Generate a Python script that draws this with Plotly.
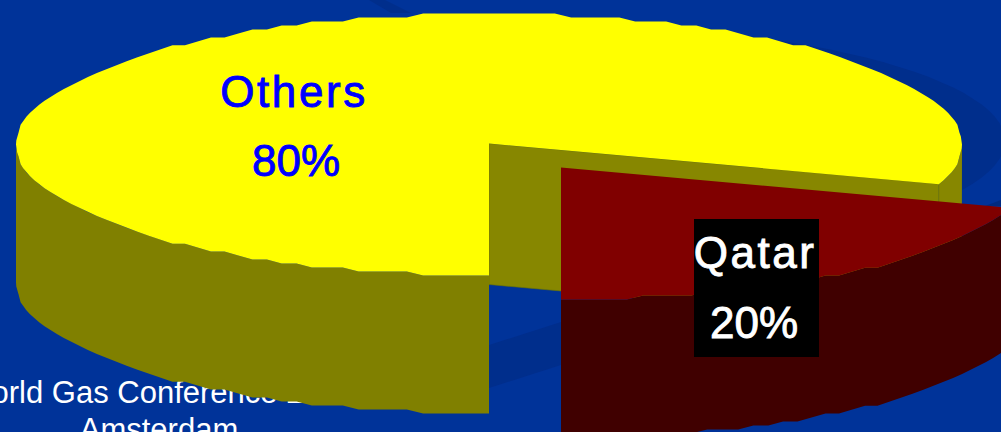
import numpy as np
import plotly.graph_objects as go

# ---- data ----
slice_names = ["Others", "Qatar"]
slice_shares = [80, 20]
footer_lines = ["World Gas Conference 2006", "Amsterdam"]

# ---- geometry and style ----
W, H = 1001, 432
RX, RY = 473, 130.9
DEPTH = 138
RADIAL_DEPTH = 141
CENTER_OTHERS = (489, 143.5)
CENTER_QATAR = (561, 167.5)
RIM_SHIFT = 1
STEP_Y = 3.967
ANGLE_STEP = 2.0
BG = "#003399"
SHADOW = "#002e8c"
YELLOW, OLIVE, OLIVE_LIGHT = "#FFFF00", "#808000", "#878700"
RED, RED_DARK = "#800000", "#400000"


def rim(center, a0, a1):
    """Slightly stepped elliptical outline; samples sit on one shared angle grid so edges coincide."""
    grid = np.arange(np.ceil(a0 / ANGLE_STEP), np.floor(a1 / ANGLE_STEP) + 1) * ANGLE_STEP
    inner_x = RX * np.cos(np.radians(grid))
    inner_y = np.round(-RY * np.sin(np.radians(grid)) / STEP_Y) * STEP_Y + RIM_SHIFT
    end_x = RX * np.cos(np.radians([a0, a1]))
    end_y = -RY * np.sin(np.radians([a0, a1]))
    xs = np.r_[end_x[0], inner_x, end_x[1]]
    ys = np.r_[end_y[0], inner_y, end_y[1]]
    return center[0] + xs, center[1] + ys


def wall(center, a0, a1, depth=DEPTH):
    x, y = rim(center, a0, a1)
    return np.r_[x, x[::-1], x[0]], np.r_[y, y[::-1] + depth, y[0]]


def wedge(center, a0, a1):
    x, y = rim(center, a0, a1)
    return np.r_[center[0], x, center[0]], np.r_[center[1], y, center[1]]


def poly(x, y, fill, line=None):
    return go.Scatter(
        x=x, y=y, mode="lines", fill="toself", fillcolor=fill, hoverinfo="skip",
        line=dict(width=0.6 if line else 0, color=line or fill), showlegend=False,
    )


# the Qatar share opens counter-clockwise from straight down
start = -90
qatar_end = start + slice_shares[1] / sum(slice_shares) * 360
others_end = start + 360

fig = go.Figure()

# drop shadow on the background
sa = np.radians(np.linspace(0, 360, 121))
fig.add_trace(poly(530 + 475 * np.cos(sa), 141 + 118 * np.sin(sa), SHADOW))
fig.add_trace(poly([489, 561, 561, 489, 489], [345, 322, 365, 388, 345], SHADOW))
fig.add_trace(poly([369, 385, 411, 391, 369], [0, 0, 13, 13, 0], SHADOW))
fig.add_trace(poly([985, 1001, 1001, 985], [206, 200, 206, 206], "#002a80"))

# footer sits behind the pie
fig.add_trace(go.Scatter(
    x=[159, 159], y=[395, 432], text=footer_lines, mode="text", hoverinfo="skip",
    textposition="middle center", showlegend=False,
    textfont=dict(family="Liberation Sans", size=31, color="white"),
))

# Others slice
x, y = wall(CENTER_OTHERS, qatar_end, 0)
fig.add_trace(poly(x, y, OLIVE_LIGHT))
cx, cy = CENTER_OTHERS
ex = cx + RX * np.cos(np.radians(qatar_end))
ey = cy - RY * np.sin(np.radians(qatar_end))
fig.add_trace(poly([cx, ex, ex, cx, cx],
                   [cy, ey, ey + RADIAL_DEPTH, cy + RADIAL_DEPTH, cy], OLIVE_LIGHT, "#6c7400"))
x, y = wall(CENTER_OTHERS, 180, 270)
fig.add_trace(poly(x, y, OLIVE))
x, y = wedge(CENTER_OTHERS, qatar_end, others_end)
fig.add_trace(poly(x, y, YELLOW))

# Qatar slice
x, y = wall(CENTER_QATAR, start, qatar_end)
fig.add_trace(poly(x, y, RED_DARK))
x, y = wedge(CENTER_QATAR, start, qatar_end)
fig.add_trace(poly(x, y, RED))

fig.add_shape(type="rect", x0=694, x1=819, y0=219, y1=357, xref="x", yref="y",
              fillcolor="black", line_width=0, layer="above")

labels = [
    (slice_names[0], 294, 91, "#0000FF"),
    (f"{slice_shares[0]}%", 295.5, 160, "#0000FF"),
    (slice_names[1], 755, 252, "white"),
    (f"{slice_shares[1]}%", 754, 322, "white"),
]
for text, ax, ay, col in labels:
    fig.add_annotation(x=ax, y=ay, text=text, showarrow=False, xanchor="center", yanchor="middle",
                       font=dict(family="Liberation Sans", size=44, color=col))

fig.update_layout(
    width=W, height=H, margin=dict(l=0, r=0, t=0, b=0),
    paper_bgcolor=BG, plot_bgcolor=BG, showlegend=False,
    xaxis=dict(range=[0, W], visible=False, fixedrange=True),
    yaxis=dict(range=[H, 0], visible=False, fixedrange=True),
)

post = """
document.documentElement.style.margin='0';document.body.style.margin='0';
document.querySelectorAll('.annotation-text').forEach(function(t){
  var s=t.textContent.indexOf('%')>=0?'0px':(t.textContent==='Qatar'?'2.5px':'2.6px');
  t.style.letterSpacing=s;
  t.style.stroke=t.style.fill;t.style.strokeWidth='0.9px';
});
"""
fig.write_html("out.html", config={"displayModeBar": False}, post_script=post)
